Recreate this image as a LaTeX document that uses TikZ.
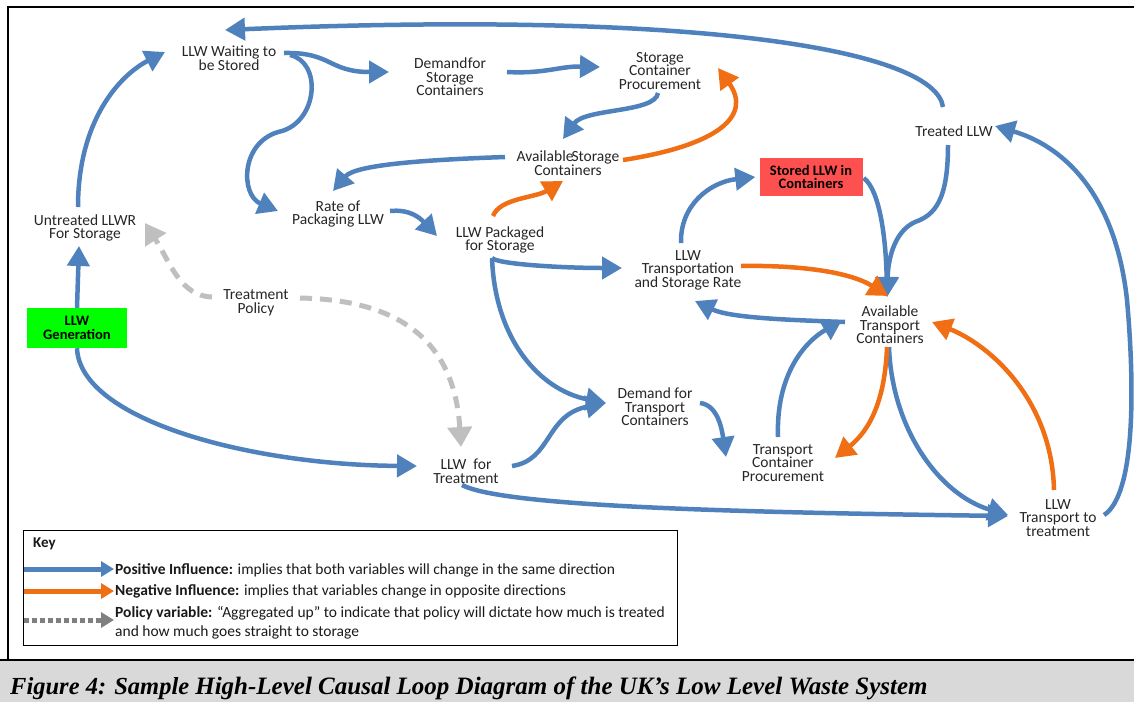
\documentclass[tikz,border=0pt]{standalone}
\usepackage{fontspec}
\setmainfont{Carlito}
\newfontfamily\capfont{Liberation Serif}
\usetikzlibrary{arrows.meta,calc}
\definecolor{cblue}{RGB}{79,129,189}
\definecolor{corange}{RGB}{240,110,20}
\definecolor{cgray}{RGB}{191,191,191}
\definecolor{clgray}{RGB}{128,128,128}
\definecolor{cgreen}{RGB}{0,255,0}
\definecolor{cred}{RGB}{255,80,80}
\definecolor{capgray}{RGB}{217,217,217}
\begin{document}
\begin{tikzpicture}[x=1pt,y=-1pt,
  lbl/.style={align=center,font=\fontsize{15.5}{13.5}\selectfont,inner sep=0pt,text=black!85},
  boxlbl/.style={align=center,font=\fontsize{14.5}{13.5}\selectfont\bfseries,inner sep=0pt,text=black},
  keytxt/.style={anchor=west,font=\fontsize{15.5}{15}\selectfont,inner sep=0pt,text=black!90},
  posarrow/.style={cblue,line width=4.5pt,-{Triangle[length=20pt,width=22pt]}},
  negarrow/.style={corange,line width=4.5pt,-{Triangle[length=20pt,width=22pt]}},
  policyarrow/.style={cgray,line width=5pt,dash pattern=on 12pt off 8pt,-{Triangle[length=20pt,width=24pt]}},
]
\useasboundingbox (0,0) rectangle (1134,702);
% frame and caption band
\fill[capgray] (0,661) rectangle (1134,702);
\draw[line width=2.5pt] (1134,7) -- (8,7) -- (8,660);
\draw[line width=2pt] (0,660) -- (1134,660);

% nodes
\node[lbl] (wait) at (229,58) {LLW Waiting to\\be Stored};
\node[lbl] (demS) at (450,77) {Demand\hspace{0.5pt}for\\Storage\\Containers};
\node[lbl] (scp) at (660,71) {Storage\\Container\\Procurement};
\node[lbl] (avS) at (568,163) {Available\hspace{-2pt}Storage\\Containers};
\node[lbl] (rate) at (338,214) {Rate of\\Packaging LLW};
\node[lbl] (pack) at (500,240) {LLW Packaged\\for Storage};
\node[lbl] (untr) at (85,228) {Untreated LLWR\\For Storage};
\node[boxlbl,fill=cgreen,minimum width=100pt,minimum height=40pt] (gen) at (77,328) {LLW\\Generation};
\node[lbl] (pol) at (256,303) {Treatment\\Policy};
\node[lbl] (trate) at (688,270) {LLW\\Transportation\\and Storage Rate};
\node[boxlbl,fill=cred,minimum width=103pt,minimum height=38pt] (stored) at (811,177) {Stored LLW in\\Containers};
\node[lbl] (treated) at (954,131) {Treated LLW};
\node[lbl] (avT) at (890,325) {Available\\Transport\\Containers};
\node[lbl] (demT) at (655,407) {Demand for\\Transport\\Containers};
\node[lbl] (tcp) at (783,463) {Transport\\Container\\Procurement};
\node[lbl] (llwT) at (466,471) {LLW\ \ for\\Treatment};
\node[lbl] (ltt) at (1058,518) {LLW\\Transport to\\treatment};

% policy (dashed) connectors
\draw[policyarrow] ($(pol)+(-44,-6)$) .. controls (180,296) and (170,262) .. ($(untr)+(60,-5)$);
\draw[policyarrow] ($(pol)+(44,-5)$) .. controls (410,300) and (455,350) .. ($(llwT)+(-5,-24)$);

% positive connectors
\draw[posarrow] ($(treated)+(-11,-24)$) .. controls (935,50) and (700,10) .. ($(wait)+(-4,-28)$);
\draw[posarrow] ($(untr)+(-7,-21)$) .. controls (78,120) and (120,75) .. ($(wait)+(-64,-6)$);
\draw[posarrow] (gen.north) -- ($(untr)+(-6,18)$);
\draw[posarrow] ($(wait)+(55,-5)$) .. controls (332,52) and (328,72) .. ($(demS)+(-61,-5)$);
\draw[posarrow] ($(wait)+(61,-3)$) .. controls (322,62) and (318,120) .. (282,131) .. controls (240,140) and (240,195) .. ($(rate)+(-60,-3)$);
\draw[posarrow] ($(demS)+(57,-5)$) .. controls (545,74) and (560,66) .. ($(scp)+(-60,-4)$);
\draw[posarrow] ($(scp)+(-2,22)$) .. controls (655,113) and (585,108) .. ($(avS)+(-5,-24)$);
\draw[posarrow] ($(avS)+(-63,-6)$) .. controls (420,160) and (355,165) .. ($(rate)+(-5,-23)$);
\draw[posarrow] ($(rate)+(52,-3)$) .. controls (410,209) and (420,218) .. ($(pack)+(-63,-4)$);
\draw[posarrow] ($(pack)+(-8,18)$) .. controls (497,264) and (560,268) .. ($(trate)+(-66,-2)$);
\draw[posarrow] ($(pack)+(-8,18)$) .. controls (495,340) and (540,390) .. ($(demT)+(-49,-4)$);
\draw[posarrow] ($(llwT)+(46,-5)$) .. controls (552,460) and (545,415) .. ($(demT)+(-49,-4)$);
\draw[posarrow] ($(demT)+(45,-4)$) .. controls (718,405) and (722,430) .. ($(tcp)+(-57,-6)$);
\draw[posarrow] ($(trate)+(-7,-27)$) .. controls (680,205) and (710,182) .. ($(stored.west)+(-4,0)$);
\draw[posarrow] ($(avT)+(-45,-3)$) .. controls (790,320) and (730,318) .. ($(trate)+(7,31)$);
\draw[posarrow] ($(stored.east)+(1,1)$) .. controls (880,190) and (886,240) .. ($(avT)+(-3,-28)$);
\draw[posarrow] ($(treated)+(-6,14)$) .. controls (948,200) and (935,215) .. (915,222) .. controls (893,232) and (888,262) .. ($(avT)+(-3,-28)$);
\draw[posarrow] ($(tcp)+(-5,-26)$) .. controls (776,380) and (800,345) .. ($(avT)+(-48,-5)$);
\draw[posarrow] ($(avT)+(-1,22)$) .. controls (892,430) and (940,495) .. ($(ltt)+(-50,-3)$);
\draw[posarrow] ($(ltt)+(46,-3)$) .. controls (1135,495) and (1135,390) .. (1127,300) .. controls (1115,190) and (1060,145) .. ($(treated)+(41,-5)$);
\draw[posarrow] (gen.south) .. controls (80,420) and (250,465) .. ($(llwT)+(-49,-5)$);
\draw[posarrow] ($(llwT)+(-4,14)$) .. controls (500,505) and (700,512) .. ($(ltt)+(-50,-2)$);

% negative connectors
\draw[negarrow] ($(avS)+(55,-3)$) .. controls (720,145) and (752,115) .. ($(scp)+(58,-3)$);
\draw[negarrow] ($(pack)+(-7,-24)$) .. controls (500,198) and (535,198) .. ($(avS)+(-5,18)$);
\draw[negarrow] ($(trate)+(53,-4)$) .. controls (800,265) and (850,272) .. ($(avT)+(-2,-29)$);
\draw[negarrow] ($(avT)+(-3,22)$) .. controls (885,400) and (870,430) .. ($(tcp)+(52,-5)$);
\draw[negarrow] ($(ltt)+(-4,-28)$) .. controls (1052,400) and (990,345) .. ($(avT)+(42,-3)$);

% key
\node[draw,line width=1pt,anchor=north west,minimum width=654pt,minimum height=115pt,inner sep=0pt] (keybox) at (23,530) {};
\node[keytxt,font=\fontsize{15}{15}\selectfont\bfseries] (keyt) at (33,544) {Key};
\coordinate (k1a) at (24,569); \coordinate (k1b) at (114,569);
\coordinate (k2a) at (24,591); \coordinate (k2b) at (114,591);
\coordinate (k3a) at (24,620); \coordinate (k3b) at (114,620);
\draw[cblue,line width=5pt,-{Triangle[length=13pt,width=15pt]}] (k1a) -- (k1b);
\draw[corange,line width=5pt,-{Triangle[length=13pt,width=15pt]}] (k2a) -- (k2b);
\draw[clgray,line width=5pt,dash pattern=on 5pt off 3pt,-{Triangle[length=13pt,width=15pt]}] (k3a) -- (k3b);
\node[keytxt] (kt1) at (115,570) {\textbf{Positive Influence:} implies that both variables will change in the same direction};
\node[keytxt] (kt2) at (115,591) {\textbf{Negative Influence:} implies that variables change in opposite directions};
\node[keytxt] (kt3) at (115,613) {\textbf{Policy variable:} “Aggregated up” to indicate that policy will dictate how much is treated};
\node[keytxt] (kt4) at (115,632) {and how much goes straight to storage};

% caption
\node[anchor=base west,inner sep=0pt] (cap) at (10,694) {\capfont\bfseries\itshape\fontsize{24.5}{24}\selectfont Figure 4: Sample {\fontsize{25}{24}\selectfont High-Level Causal Loop Diagram of the UK’s Low Level Waste System}};
\end{tikzpicture}
\end{document}
